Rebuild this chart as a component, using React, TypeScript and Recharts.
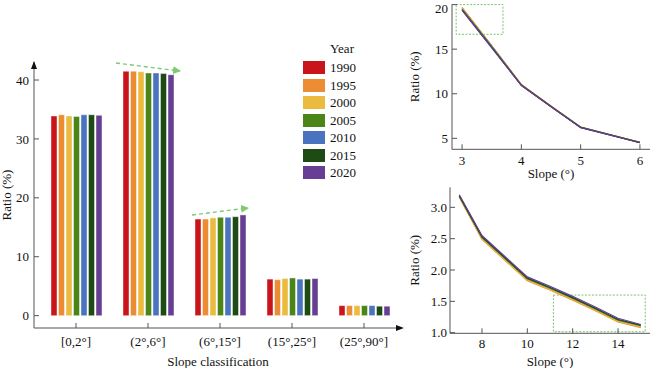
import { BarChart, Bar, XAxis, YAxis, LineChart, Line, ReferenceArea } from 'recharts'

const YEARS = ['1990', '1995', '2000', '2005', '2010', '2015', '2020']
const COLORS = ['#c9141c', '#ec8d33', '#ebbb3f', '#4b8517', '#4a73bf', '#1d4b13', '#663f95']

// bar chart: ratio of area per slope class, one array per year
const SLOPE_CLASSES = ['[0,2°]', '(2°,6°]', '(6°,15°]', '(15°,25°]', '(25°,90°]']
const CLASS_RATIO: number[][] = [
  [33.9, 41.5, 16.4, 6.2, 1.7], // 1990
  [34.1, 41.5, 16.4, 6.1, 1.7], // 1995
  [33.9, 41.4, 16.6, 6.3, 1.7], // 2000
  [33.8, 41.2, 16.7, 6.4, 1.7], // 2005
  [34.1, 41.2, 16.7, 6.2, 1.7], // 2010
  [34.1, 41.1, 16.8, 6.2, 1.6], // 2015
  [34.0, 40.9, 17.1, 6.3, 1.6], // 2020
]

// top right: slope 3-6°
const SLOPE_LOW = [3, 3.5, 4, 4.5, 5, 5.5, 6]
const RATIO_LOW: number[][] = [
  [19.6, 15.35, 11.0, 8.6, 6.25, 5.4, 4.55],
  [19.7, 15.4, 11.05, 8.62, 6.27, 5.41, 4.56],
  [19.6, 15.35, 11.02, 8.6, 6.26, 5.4, 4.55],
  [19.5, 15.3, 10.98, 8.58, 6.24, 5.39, 4.54],
  [19.45, 15.25, 10.96, 8.57, 6.23, 5.38, 4.53],
  [19.4, 15.2, 10.94, 8.56, 6.22, 5.37, 4.52],
  [19.35, 15.15, 10.92, 8.55, 6.2, 5.36, 4.5],
]

// bottom right: slope 7-15°
const SLOPE_HIGH = [7, 8, 9, 10, 11, 12, 13, 14, 15]
const RATIO_HIGH: number[][] = [
  [3.17, 2.5, 2.17, 1.84, 1.69, 1.53, 1.36, 1.18, 1.09],
  [3.16, 2.49, 2.16, 1.83, 1.68, 1.52, 1.35, 1.17, 1.08],
  [3.17, 2.5, 2.17, 1.84, 1.69, 1.53, 1.36, 1.18, 1.09],
  [3.18, 2.52, 2.19, 1.86, 1.71, 1.55, 1.38, 1.2, 1.11],
  [3.19, 2.53, 2.2, 1.87, 1.72, 1.56, 1.39, 1.21, 1.12],
  [3.18, 2.53, 2.2, 1.87, 1.72, 1.56, 1.39, 1.21, 1.12],
  [3.2, 2.55, 2.22, 1.89, 1.74, 1.58, 1.41, 1.23, 1.13],
]

const barData = SLOPE_CLASSES.map((cls, c) => {
  const row: Record<string, any> = { cls }
  YEARS.forEach((y, i) => (row['y' + y] = CLASS_RATIO[i][c]))
  return row
})

function buildRows(xs: number[], vals: number[][]) {
  return xs.map((x, k) => {
    const row: Record<string, number> = { x }
    YEARS.forEach((y, i) => (row['y' + y] = vals[i][k]))
    return row
  })
}

const lowData = buildRows(SLOPE_LOW, RATIO_LOW)
const highData = buildRows(SLOPE_HIGH, RATIO_HIGH)

const FONT = 'Liberation Serif, Times New Roman, Tinos, DejaVu Serif, serif'
const AXIS = '#555'
const TICK = { fill: '#111', fontSize: 13, fontFamily: FONT }
const LABEL = { fill: '#111', fontSize: 13, fontFamily: FONT }
const BOX = '#7cc36e'
const ARROW = '#6bbf5c'

export default function App() {
  return (
    <div
      style={{
        position: 'absolute',
        left: 0,
        top: 0,
        width: 650,
        height: 368,
        background: '#fff',
        fontFamily: FONT,
        color: '#111',
      }}
    >
      <div style={{ position: 'absolute', left: 0, top: 0 }}>
        <BarChart
          width={405}
          height={368}
          data={barData}
          margin={{ top: 62, right: 3, left: 0, bottom: 0 }}
          barCategoryGap={11}
          barGap={1.5}
          style={{ fontFamily: FONT }}
        >
          <XAxis
            dataKey="cls"
            height={40}
            padding={{ left: 6, right: 2 }}
            interval={0}
            stroke={AXIS}
            tickSize={-5}
            tickMargin={14}
            tick={TICK}
            label={{ value: 'Slope classification', position: 'insideBottom', offset: 2.5, ...LABEL }}
          />
          <YAxis
            width={34}
            domain={[-2.1, 43.06]}
            ticks={[0, 10, 20, 30, 40]}
            allowDataOverflow
            stroke={AXIS}
            tickSize={-5}
            tickMargin={10}
            tick={TICK}
            label={{ value: 'Ratio (%)', angle: -90, position: 'insideLeft', offset: 6, ...LABEL, style: { textAnchor: 'middle' } }}
          />
          {YEARS.map((y, i) => (
            <Bar
              key={y}
              dataKey={'y' + y}
              fill={COLORS[i]}
              stroke="rgba(255,255,255,0.55)"
              strokeWidth={0.8}
              isAnimationActive={false}
            />
          ))}
        </BarChart>
      </div>

      {/* axis arrowheads and trend arrows */}
      <svg width={650} height={368} style={{ position: 'absolute', left: 0, top: 0, pointerEvents: 'none' }}>
        <defs>
          <marker id="trend" markerWidth="8" markerHeight="8" refX="7" refY="4" orient="auto" markerUnits="userSpaceOnUse">
            <path d="M0,0 L8,4 L0,8 z" fill={ARROW} />
          </marker>
        </defs>
        <polygon points="34,61 31,69 37,69" fill="#111" />
        <polygon points="404,328 396,325 396,331" fill="#111" />
        <line x1={116} y1={63} x2={180} y2={71} stroke={ARROW} strokeWidth={1.4} strokeDasharray="4 3" opacity={0.85} markerEnd="url(#trend)" />
        <line x1={192} y1={215} x2={248} y2={208} stroke={ARROW} strokeWidth={1.4} strokeDasharray="4 3" opacity={0.85} markerEnd="url(#trend)" />
      </svg>

      {/* legend */}
      <div style={{ position: 'absolute', left: 303, top: 40, fontSize: 13, lineHeight: '17.5px' }}>
        <div style={{ paddingLeft: 27, height: 19 }}>Year</div>
        {YEARS.map((y, i) => (
          <div key={y} style={{ display: 'flex', alignItems: 'center', height: 17.5 }}>
            <span style={{ width: 22, height: 13, background: COLORS[i], display: 'inline-block', marginRight: 5 }} />
            <span>{y}</span>
          </div>
        ))}
      </div>

      <div style={{ position: 'absolute', left: 405, top: 0 }}>
        <LineChart width={245} height={185} data={lowData} margin={{ top: 4.3, right: 0, left: 0, bottom: 0 }} style={{ fontFamily: FONT }}>
          <XAxis
            dataKey="x"
            type="number"
            domain={[2.83, 6.17]}
            ticks={[3, 4, 5, 6]}
            allowDataOverflow
            height={35.7}
            stroke={AXIS}
            tickSize={-5}
            tickMargin={11}
            tick={TICK}
            label={{ value: 'Slope (°)', position: 'insideBottom', offset: 7.5, ...LABEL }}
          />
          <YAxis
            width={47}
            domain={[3.77, 20.03]}
            ticks={[5, 10, 15, 20]}
            allowDataOverflow
            stroke={AXIS}
            tickSize={-5}
            tickMargin={9}
            tick={TICK}
            label={{ value: 'Ratio (%)', angle: -90, position: 'insideLeft', offset: 9.5, ...LABEL, style: { textAnchor: 'middle' } }}
          />
          <ReferenceArea x1={2.9} x2={3.69} y1={16.67} y2={20} fill="none" stroke={BOX} strokeDasharray="2 1.5" ifOverflow="visible" />
          {YEARS.map((y, i) => (
            <Line key={y} dataKey={'y' + y} type="linear" stroke={COLORS[i]} strokeWidth={1.2} dot={false} isAnimationActive={false} />
          ))}
        </LineChart>
      </div>

      <div style={{ position: 'absolute', left: 405, top: 185 }}>
        <LineChart width={245} height={183} data={highData} margin={{ top: 2.3, right: 0, left: 0, bottom: 0 }} style={{ fontFamily: FONT }}>
          <XAxis
            dataKey="x"
            type="number"
            domain={[6.59, 15.41]}
            ticks={[8, 10, 12, 14]}
            allowDataOverflow
            height={34.7}
            stroke={AXIS}
            tickSize={-5}
            tickMargin={10}
            tick={TICK}
            label={{ value: 'Slope (°)', position: 'insideBottom', offset: 2.5, ...LABEL }}
          />
          <YAxis
            width={45}
            domain={[0.99, 3.32]}
            ticks={[1.0, 1.5, 2.0, 2.5, 3.0]}
            tickFormatter={(v: number) => v.toFixed(1)}
            allowDataOverflow
            stroke={AXIS}
            tickSize={-5}
            tickMargin={8}
            tick={TICK}
            label={{ value: 'Ratio (%)', angle: -90, position: 'insideLeft', offset: 9.5, ...LABEL, style: { textAnchor: 'middle' } }}
          />
          <ReferenceArea x1={11.15} x2={15.2} y1={1.015} y2={1.6} fill="none" stroke={BOX} strokeDasharray="2 1.5" ifOverflow="visible" />
          {YEARS.map((y, i) => (
            <Line key={y} dataKey={'y' + y} type="linear" stroke={COLORS[i]} strokeWidth={1.2} dot={false} isAnimationActive={false} />
          ))}
        </LineChart>
      </div>
    </div>
  )
}
